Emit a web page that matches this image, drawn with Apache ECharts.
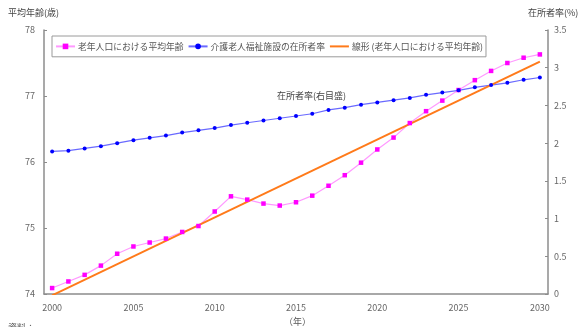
<!DOCTYPE html>
<html>
<head>
<meta charset="utf-8">
<script src="https://cdn.jsdelivr.net/npm/echarts@6/dist/echarts.min.js"></script>
<style>
html,body{margin:0;padding:0;background:#fff;}
#chart{width:580px;height:327px;}
</style>
</head>
<body>
<div id="chart"></div>
<script>
// Years on the horizontal axis
const years = [];
for (let y = 2000; y <= 2030; y++) years.push(String(y));

// Average age of the elderly population (left axis, years)
const avgAge = [74.09, 74.19, 74.29, 74.43, 74.61, 74.72, 74.78, 74.84, 74.94, 75.03,
  75.25, 75.48, 75.43, 75.37, 75.34, 75.39, 75.49, 75.64, 75.80, 75.99,
  76.19, 76.37, 76.59, 76.77, 76.93, 77.09, 77.24, 77.38, 77.50, 77.58, 77.63];

// Residency rate of special nursing homes for the elderly (right axis, %)
const residencyRate = [1.89, 1.90, 1.93, 1.96, 2.00, 2.04, 2.07, 2.10, 2.14, 2.17,
  2.20, 2.24, 2.27, 2.30, 2.33, 2.36, 2.39, 2.44, 2.47, 2.51,
  2.54, 2.57, 2.60, 2.64, 2.67, 2.70, 2.74, 2.77, 2.80, 2.84, 2.87];

// Linear trend of the average age: values at the first and last year
const trendEnds = [73.98, 77.52];
const trend = years.map((_, i) => i === 0 ? trendEnds[0] : (i === years.length - 1 ? trendEnds[1] : null));

const seriesNames = ['老年人口における平均年齢', '介護老人福祉施設の在所者率', '線形 (老年人口における平均年齢)'];

const FONT = '"Noto Sans CJK JP", "Noto Sans", sans-serif';
const AXIS = '#8c8c8c';

const chart = echarts.init(document.getElementById('chart'), null, {renderer: 'canvas'});
chart.setOption({
  animation: false,
  textStyle: {fontFamily: FONT},
  grid: {left: 44, right: 32, top: 30, bottom: 33, containLabel: false},
  legend: {
    left: 52, top: 36, width: 500,
    padding: [6, 3, 6, 3],
    itemGap: 4, itemWidth: 19, itemHeight: 7,
    borderColor: '#9a9a9a', borderWidth: 1,
    textStyle: {fontSize: 8.8, color: '#555', fontFamily: FONT, padding: [0, 0, 0, -2]},
    data: [
      seriesNames[0],
      seriesNames[1],
      {name: seriesNames[2], itemStyle: {opacity: 0}}
    ]
  },
  xAxis: {
    type: 'category', data: years, boundaryGap: true,
    axisLine: {lineStyle: {color: AXIS, width: 1.5}},
    axisTick: {inside: true, length: 4, interval: 0, lineStyle: {color: AXIS}},
    axisLabel: {interval: 4, color: '#666', fontSize: 9, margin: 9, fontFamily: FONT},
    splitLine: {show: false}
  },
  yAxis: [
    {
      type: 'value', min: 74, max: 78, interval: 1,
      axisLine: {show: true, lineStyle: {color: AXIS, width: 1.5}},
      axisTick: {show: true, inside: true, length: 3, lineStyle: {color: AXIS}},
      axisLabel: {color: '#666', fontSize: 9, margin: 9, fontFamily: FONT},
      splitLine: {show: false}
    },
    {
      type: 'value', min: 0, max: 3.5, interval: 0.5,
      axisLine: {show: true, lineStyle: {color: AXIS, width: 1.5}},
      axisTick: {show: true, inside: true, length: 3, lineStyle: {color: AXIS}},
      axisLabel: {color: '#666', fontSize: 9, margin: 6, fontFamily: FONT},
      splitLine: {show: false}
    }
  ],
  series: [
    {
      name: seriesNames[0], type: 'line', yAxisIndex: 0, data: avgAge,
      symbol: 'rect', symbolSize: 4.5,
      lineStyle: {color: '#ff99ff', width: 1.2},
      itemStyle: {color: '#ff00ff'}
    },
    {
      name: seriesNames[1], type: 'line', yAxisIndex: 1, data: residencyRate,
      symbol: 'circle', symbolSize: 4,
      lineStyle: {color: '#6a6aff', width: 1.2},
      itemStyle: {color: '#0000ff'}
    },
    {
      name: seriesNames[2], type: 'line', yAxisIndex: 0, data: trend,
      connectNulls: true, symbol: 'none', clip: true,
      lineStyle: {color: '#ff7a1a', width: 2},
      itemStyle: {color: '#ff7a1a'}
    }
  ],
  graphic: [
    {type: 'text', left: 8, top: 8, style: {text: '平均年齢(歳)', fontSize: 9, fill: '#444', fontFamily: FONT}},
    {type: 'text', left: 528, top: 8, style: {text: '在所者率(%)', fontSize: 9, fill: '#444', fontFamily: FONT}},
    {type: 'text', left: 277, top: 91, style: {text: '在所者率(右目盛)', fontSize: 9, fill: '#444', fontFamily: FONT}},
    {type: 'text', left: 284, top: 317, style: {text: '（年）', fontSize: 9, fill: '#555', fontFamily: FONT}},
    {type: 'text', left: 8, top: 323, style: {text: '資料：', fontSize: 9, fill: '#555', fontFamily: FONT}}
  ]
});
</script>
</body>
</html>
